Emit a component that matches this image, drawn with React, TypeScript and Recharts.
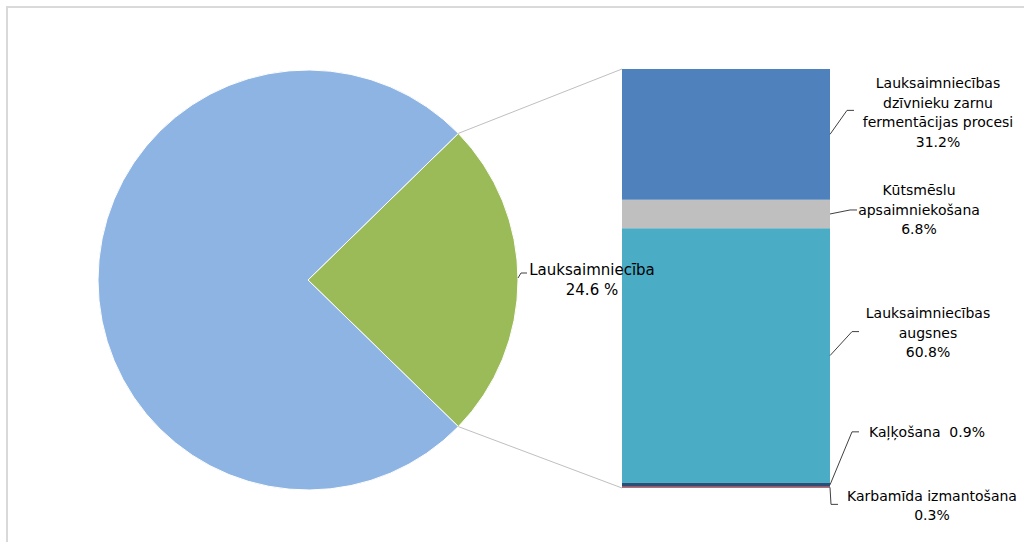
import { PieChart, Pie, Cell, BarChart, Bar, XAxis, YAxis } from 'recharts';

const W = 1024;
const H = 542;
const FONT = '"DejaVu Sans", Verdana, sans-serif';

// pie: share of agriculture vs. everything else
const PIE_NAMES = ['Lauksaimniecība', 'Pārējie sektori'];
const PIE_VALUES = [24.6, 75.4];
const PIE_COLORS = ['#9bbb59', '#8eb4e3'];

// breakdown bar, stacked bottom -> top
const BAR_KEYS = ['karbamids', 'kalkosana', 'augsnes', 'kutsmesli', 'zarnu'];
const BAR_LABELS = [
  ['Karbamīda izmantošana', '0.3%'],
  ['Kaļķošana\u00a0 0.9%'],
  ['Lauksaimniecības', 'augsnes', '60.8%'],
  ['Kūtsmēslu', 'apsaimniekošana', '6.8%'],
  ['Lauksaimniecības', 'dzīvnieku zarnu', 'fermentācijas procesi', '31.2%'],
];
const BAR_VALUES = [0.3, 0.9, 60.8, 6.8, 31.2];
const BAR_COLORS = ['#d9625e', '#2c4d75', '#4bacc6', '#bfbfbf', '#4f81bd'];

// plot area of the bar
const BAR_LEFT = 622;
const BAR_RIGHT = 830;
const BAR_TOP = 69;
const BAR_BOTTOM = 488;

// leader line / text placement per segment (relative to bar right edge and segment middle)
const LABEL_POS = [
  { ex: 1, ey: 17, tx: 102, ty: 1 },
  { ex: 22, ey: -53, tx: 97, ty: 0 },
  { ex: 22, ey: -24, tx: 98, ty: 1 },
  { ex: 20, ey: -4, tx: 89, ty: 0 },
  { ex: 17, ey: -24, tx: 108, ty: 2 },
];

const barRow: Record<string, any> = { name: 'Lauksaimniecība' };
BAR_KEYS.forEach((k, i) => (barRow[k] = BAR_VALUES[i]));
const barData = [barRow];

const pieData = PIE_NAMES.map((name, i) => ({ name, value: PIE_VALUES[i] }));

const RAD = Math.PI / 180;

const makeShape = (i: number) => (props: any) => {
  const { x, y, width, height, fill } = props;
  const right = x + width;
  const mid = y + height / 2;
  const p = LABEL_POS[i];
  const ex = right + p.ex;
  const ey = mid + p.ey;
  const lines = BAR_LABELS[i];
  const lh = 19.5;
  const y0 = ey + p.ty - ((lines.length - 1) * lh) / 2;
  return (
    <g>
      <rect x={x} y={y} width={width} height={height} fill={fill} />
      <polyline points={`${right},${mid} ${ex},${ey} ${ex + 7},${ey}`} fill="none" stroke="#404040" strokeWidth={1} />
      {lines.map((t, j) => (
        <text key={j} x={right + p.tx} y={y0 + j * lh} textAnchor="middle" dominantBaseline="central"
          fontFamily={FONT} fontSize={14} fill="#000">
          {t}
        </text>
      ))}
    </g>
  );
};

const pieLabel = (props: any) => {
  const { cx, cy, outerRadius, startAngle, endAngle, index, value, name } = props;
  if (index !== 0) return null;
  const ux = cx + Math.cos(-endAngle * RAD) * outerRadius;
  const uy = cy + Math.sin(-endAngle * RAD) * outerRadius;
  const lx = cx + Math.cos(-startAngle * RAD) * outerRadius;
  const ly = cy + Math.sin(-startAngle * RAD) * outerRadius;
  const ax = cx + outerRadius;
  return (
    <g>
      <line x1={ux} y1={uy} x2={BAR_LEFT} y2={BAR_TOP} stroke="#bfbfbf" strokeWidth={1} />
      <line x1={lx} y1={ly} x2={BAR_LEFT} y2={BAR_BOTTOM} stroke="#bfbfbf" strokeWidth={1} />
      <polyline points={`${ax},${cy - 2} ${ax + 3},${cy - 7} ${ax + 9},${cy - 7}`} fill="none" stroke="#404040" strokeWidth={1} />
      <text x={ax + 74} y={cy - 10} textAnchor="middle" dominantBaseline="central" fontFamily={FONT} fontSize={15} fill="#000">
        {name}
      </text>
      <text x={ax + 74} y={cy + 10} textAnchor="middle" dominantBaseline="central" fontFamily={FONT} fontSize={15} fill="#000">
        {`${value} %`}
      </text>
    </g>
  );
};

export default function App() {
  return (
    <div style={{ position: 'absolute', left: 0, top: 0, width: W, height: H, overflow: 'hidden', background: '#fff' }}>
      <div style={{ position: 'absolute', left: 0, top: 0 }}>
        <BarChart width={W} height={H} data={barData} barCategoryGap={0}
          margin={{ top: BAR_TOP, bottom: H - BAR_BOTTOM, left: BAR_LEFT, right: W - BAR_RIGHT }}>
          <XAxis dataKey="name" hide />
          <YAxis hide domain={[0, 100]} />
          {BAR_KEYS.map((k, i) => (
            <Bar key={k} dataKey={k} stackId="a" fill={BAR_COLORS[i]} shape={makeShape(i)} isAnimationActive={false} />
          ))}
        </BarChart>
      </div>
      <div style={{ position: 'absolute', left: 0, top: 0 }}>
        <PieChart width={W} height={H} margin={{ top: 0, bottom: 0, left: 0, right: 0 }}>
          <Pie data={pieData} dataKey="value" nameKey="name" cx={308} cy={280} outerRadius={210}
            startAngle={-44.28} endAngle={315.72} stroke="#fff" strokeWidth={1}
            label={pieLabel} labelLine={false} isAnimationActive={false}>
            {pieData.map((d, i) => (
              <Cell key={d.name} fill={PIE_COLORS[i]} />
            ))}
          </Pie>
        </PieChart>
      </div>
      <div style={{ position: 'absolute', left: 6, top: 6, width: W + 40, height: H + 40, border: '2px solid #d9d9d9', pointerEvents: 'none' }} />
    </div>
  );
}
